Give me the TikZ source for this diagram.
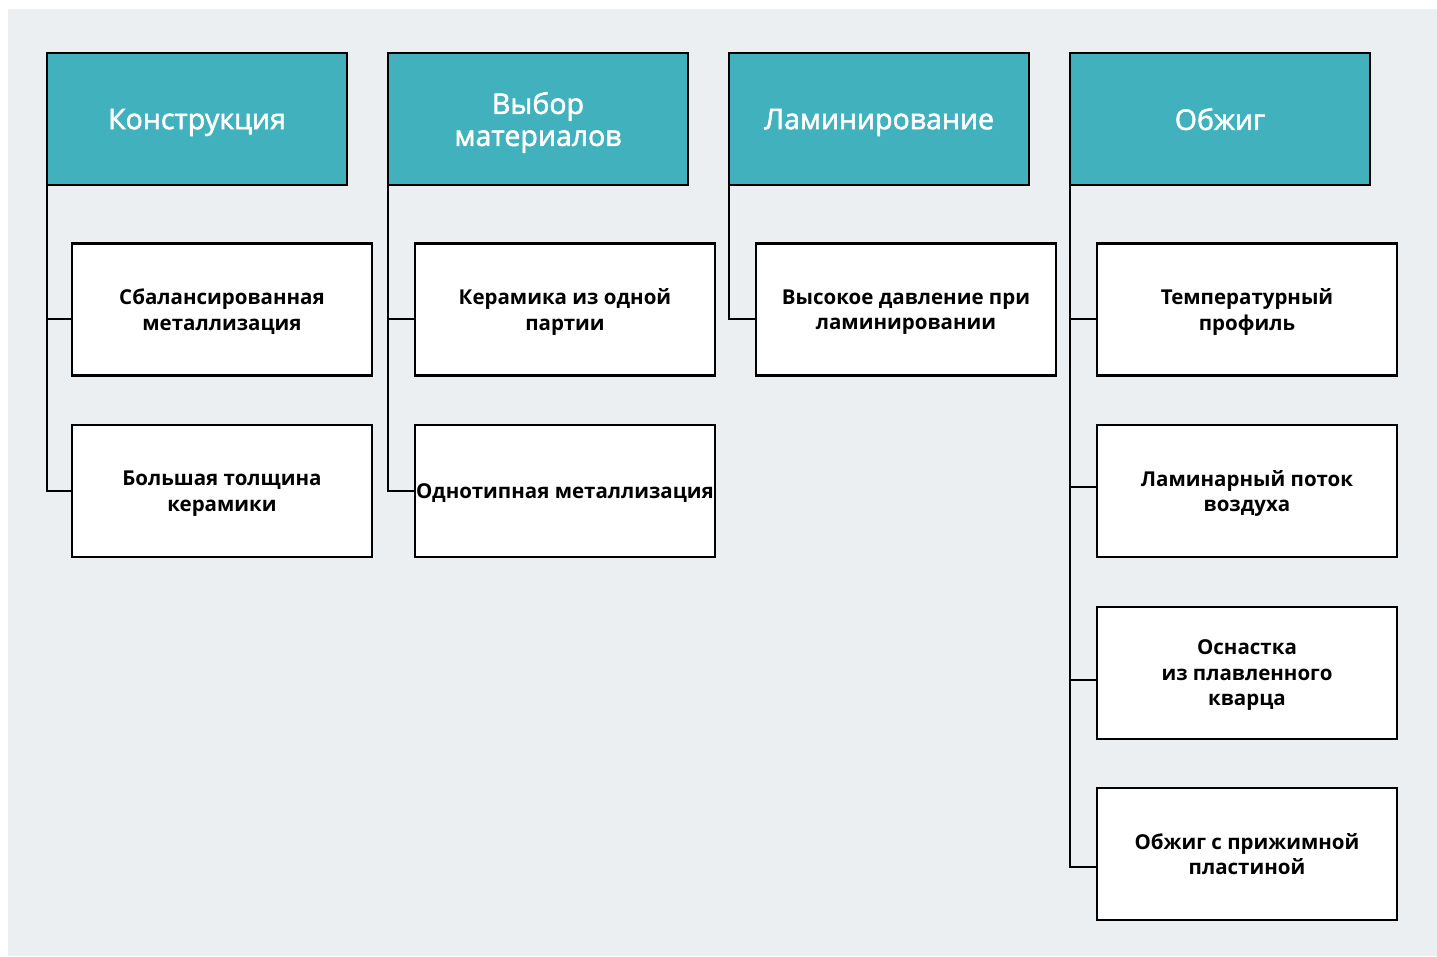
\documentclass[tikz,border=0pt]{standalone}
\usepackage{fontspec}
\setmainfont{Open Sans}
\newfontfamily\headfont[FakeBold=2]{Open Sans}
\usetikzlibrary{positioning}
\definecolor{bgc}{HTML}{EBEFF2}
\definecolor{teal}{HTML}{40B1BD}
\tikzset{
  head/.style={draw=black, line width=2.8pt, outer sep=0pt, fill=teal, minimum width=300pt, minimum height=132pt, inner sep=0pt, align=center, text=white, text depth=0pt, font=\headfont\fontsize{28.5}{32}\selectfont},
  item/.style={draw=black, line width=2.8pt, outer sep=0pt, fill=white, minimum width=300pt, minimum height=132pt, inner sep=0pt, align=center, text=black, text depth=0pt, font=\fontsize{20.5}{25.5}\selectfont\bfseries},
  conn/.style={draw=black, line width=2.8pt}
}
\begin{document}
\begin{tikzpicture}[x=1pt,y=1pt]
\useasboundingbox (0,0) rectangle (1437,-956);
\fill[bgc] (8,-9) rectangle (1437,-956);
% headers
\node[head] (h1) at (197,-119) {Конструкция};
\node[head] (h2) at (538,-119) {Выбор\\материалов};
\node[head] (h3) at (879,-119) {Ламинирование};
\node[head] (h4) at (1220,-119) {Обжиг};
% column 1
\node[item] (a1) at (222,-309.5) {Сбалансированная\\металлизация};
\node[item] (a2) at (222,-491) {Большая толщина\\керамики};
% column 2
\node[item] (b1) at (565,-309.5) {Керамика из одной\\партии};
\node[item] (b2) at (565,-491) {Однотипная металлизация};
% column 3
\node[item] (c1) at (906,-309.5) {Высокое давление при\\ламинировании};
% column 4
\node[item] (d1) at (1247,-309.5) {Температурный\\профиль};
\node[item] (d2) at (1247,-491) {Ламинарный поток\\воздуха};
\node[item] (d3) at (1247,-673) {Оснастка\\из плавленного\\кварца};
\node[item] (d4) at (1247,-854) {Обжиг с прижимной\\пластиной};
% connectors
\draw[conn] (h1.south west) |- ([yshift=-9.5pt]a1.west);
\draw[conn] (h1.south west) |- (a2.west);
\draw[conn] (h2.south west) |- ([yshift=-9.5pt]b1.west);
\draw[conn] (h2.south west) |- (b2.west);
\draw[conn] (h3.south west) |- ([yshift=-9.5pt]c1.west);
\draw[conn] (h4.south west) |- ([yshift=-9.5pt]d1.west);
\draw[conn] (h4.south west) |- ([yshift=4pt]d2.west);
\draw[conn] (h4.south west) |- ([yshift=-7pt]d3.west);
\draw[conn] (h4.south west) |- ([yshift=-13pt]d4.west);
\end{tikzpicture}
\end{document}
